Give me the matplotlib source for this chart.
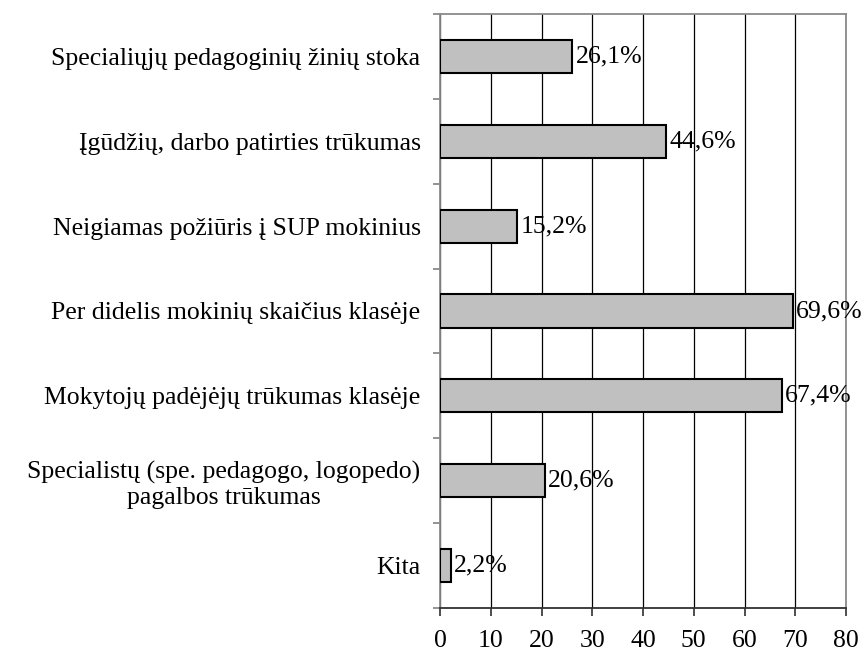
import matplotlib
matplotlib.use("Agg")
import matplotlib.pyplot as plt
import numpy as np

categories = [
    "Specialiųjų pedagoginių žinių stoka",
    "Įgūdžių, darbo patirties trūkumas",
    "Neigiamas požiūris į SUP mokinius",
    "Per didelis mokinių skaičius klasėje",
    "Mokytojų padėjėjų trūkumas klasėje",
    "Specialistų (spe. pedagogo, logopedo)\npagalbos trūkumas",
    "Kita",
]
values = [26.1, 44.6, 15.2, 69.6, 67.4, 20.6, 2.2]
value_labels = ["26,1%", "44,6%", "15,2%", "69,6%", "67,4%", "20,6%", "2,2%"]
xticks = [0, 10, 20, 30, 40, 50, 60, 70, 80]

plt.rcParams['font.family'] = ['Liberation Serif', 'DejaVu Serif']
FS = 18.5

fig = plt.figure(figsize=(8.65, 6.57), dpi=100)
ax = fig.add_axes([440/865, 1-608/657, 406/865, 594/657])

n = len(categories)
y = np.arange(n)
ax.barh(y, values, height=0.39, color="#c0c0c0", edgecolor="black", linewidth=1.5, zorder=3)
for yi, v, lab in zip(y, values, value_labels):
    ax.text(v + 0.6, yi, lab, va="center", ha="left", fontsize=FS, zorder=4)

ax.set_xlim(0, 80)
ax.set_ylim(n - 0.5, -0.5)
ax.set_xticks(xticks)
ax.set_xticklabels([str(t) for t in xticks], fontsize=FS)
ax.set_yticks(y)
ax.set_yticklabels(categories, fontsize=FS, multialignment="center", linespacing=1.2)
ax.set_yticks(np.arange(n + 1) - 0.5, minor=True)

ax.tick_params(axis="y", which="major", length=0, pad=14)
ax.tick_params(axis="y", which="minor", length=5, color="#808080", width=1.2, direction="out")
ax.tick_params(axis="x", which="major", length=6, width=1.2, color="#303030", pad=10)

ax.grid(axis="x", color="black", linewidth=0.9, zorder=0)
ax.set_axisbelow(True)

for s in ["top", "right", "left"]:
    ax.spines[s].set_color("#8a8a8a")
    ax.spines[s].set_linewidth(1.3)
ax.spines["bottom"].set_color("#303030")
ax.spines["bottom"].set_linewidth(1.3)

fig.savefig("out.png", dpi=100, facecolor="white")
